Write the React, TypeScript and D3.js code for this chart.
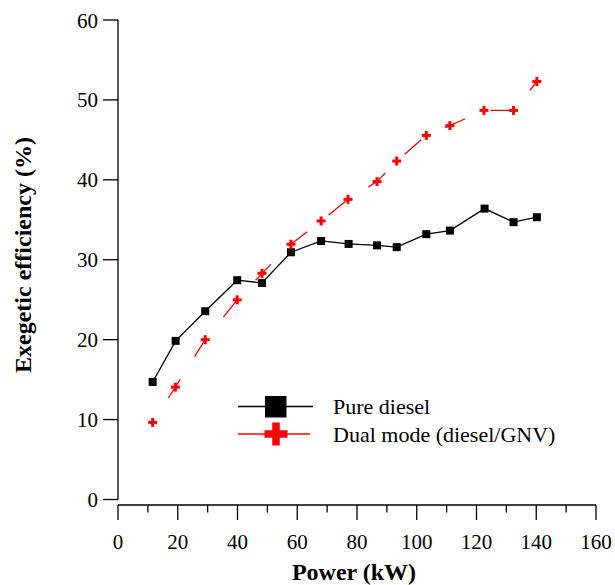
import React from "react";
import * as d3 from "d3";

const powerDiesel = [11.6, 19.3, 29.2, 39.9, 48.2, 57.9, 68.0, 77.2, 86.7, 93.3, 103.2, 111.1, 122.7, 132.4, 140.2];
const effDiesel = [14.7, 19.85, 23.56, 27.44, 27.1, 30.94, 32.35, 31.98, 31.8, 31.58, 33.2, 33.65, 36.4, 34.7, 35.32];
const powerDual = [11.6, 19.2, 29.2, 39.9, 48.2, 57.9, 68.0, 77.0, 86.7, 93.3, 103.2, 111.1, 122.5, 132.4, 140.2];
const effDual = [9.65, 14.06, 20.0, 24.98, 28.3, 31.94, 34.85, 37.56, 39.78, 42.35, 45.56, 46.78, 48.69, 48.69, 52.3];
const xTicks = [0, 20, 40, 60, 80, 100, 120, 140, 160];
const xMinorTicks = [10, 30, 50, 70, 90, 110, 130, 150];
const yTicks = [0, 10, 20, 30, 40, 50, 60];
const seriesNames = ["Pure diesel", "Dual mode (diesel/GNV)"];
const xTitle = "Power (kW)";
const yTitle = "Exegetic efficiency (%)";

const FONT = "'Liberation Serif', 'Times New Roman', serif";

export default function App() {
  const W = 615, H = 585;
  const x = d3.scaleLinear().domain([0, 160]).range([118, 596]);
  const y = d3.scaleLinear().domain([0, 60]).range([499.5, 20]);
  const xAxisY = 505;
  const line = d3.line<[number, number]>().x(d => x(d[0])).y(d => y(d[1]));
  const dieselPts: [number, number][] = powerDiesel.map((p, i) => [p, effDiesel[i]]);
  const dualPts: [number, number][] = powerDual.map((p, i) => [p, effDual[i]]);

  const cross = (cx: number, cy: number, s: number, t: number, key: any) => (
    <g key={key} fill="#ff0000">
      <rect x={cx - s / 2} y={cy - t / 2} width={s} height={t} />
      <rect x={cx - t / 2} y={cy - s / 2} width={t} height={s} />
    </g>
  );

  return (
    <svg width={W} height={H} style={{ position: "absolute", left: 0, top: 0 }} fontFamily={FONT}>
      <rect width={W} height={H} fill="#fff" />
      {/* Y axis */}
      <line x1={118} x2={118} y1={y(60)} y2={y(0)} stroke="#000" strokeWidth={1.3} />
      {yTicks.map(t => (
        <g key={"y" + t}>
          <line x1={103} x2={118} y1={y(t)} y2={y(t)} stroke="#000" strokeWidth={1.3} />
          <text x={98} y={y(t) + 7.5} textAnchor="end" fontSize={21}>{t}</text>
        </g>
      ))}
      {/* X axis */}
      <line x1={x(0)} x2={x(160)} y1={xAxisY} y2={xAxisY} stroke="#000" strokeWidth={1.3} />
      {xTicks.map(t => (
        <g key={"x" + t}>
          <line x1={x(t)} x2={x(t)} y1={xAxisY} y2={520} stroke="#000" strokeWidth={1.3} />
          <text x={x(t)} y={548.5} textAnchor="middle" fontSize={21}>{t}</text>
        </g>
      ))}
      {xMinorTicks.map(t => (
        <line key={"m" + t} x1={x(t)} x2={x(t)} y1={xAxisY} y2={512.5} stroke="#000" strokeWidth={1.3} />
      ))}
      <text x={354} y={580} textAnchor="middle" fontSize={24} fontWeight="bold">{xTitle}</text>
      <text transform={`translate(31,255) rotate(-90)`} textAnchor="middle" fontSize={24} fontWeight="bold">{yTitle}</text>

      {/* Series */}
      <path d={line(dieselPts) || ""} fill="none" stroke="#000" strokeWidth={1.3} />
      {dieselPts.map((d, i) => (
        <rect key={"s" + i} x={x(d[0]) - 4} y={y(d[1]) - 4} width={8} height={8} fill="#000" />
      ))}
      <path d={line(dualPts) || ""} fill="none" stroke="#ff0000" strokeWidth={1.3} strokeDasharray="22,27" strokeDashoffset={20} />
      {dualPts.map((d, i) => cross(x(d[0]), y(d[1]), 9, 3, "c" + i))}

      {/* Legend */}
      <line x1={238} x2={313} y1={406.5} y2={406.5} stroke="#000" strokeWidth={1.3} />
      <rect x={265} y={396} width={21.5} height={21.5} fill="#000" />
      <text x={333} y={414} fontSize={22}>{seriesNames[0]}</text>
      <line x1={238} x2={310} y1={434} y2={434} stroke="#ff0000" strokeWidth={1.3} />
      {cross(276, 434, 23, 7.5, "lc")}
      <text x={333} y={442} fontSize={22}>{seriesNames[1]}</text>
    </svg>
  );
}
